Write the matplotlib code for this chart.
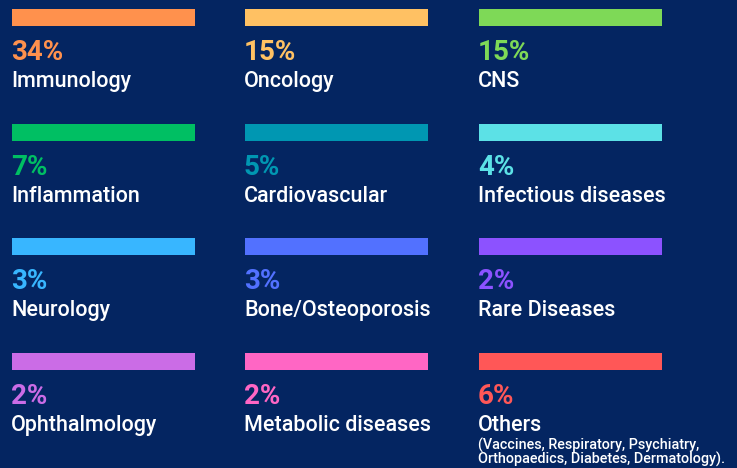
import matplotlib
matplotlib.use("Agg")
import matplotlib.pyplot as plt

# therapeutic areas, share of pipeline (%)
areas = ["Immunology", "Oncology", "CNS",
         "Inflammation", "Cardiovascular", "Infectious diseases",
         "Neurology", "Bone/Osteoporosis", "Rare Diseases",
         "Ophthalmology", "Metabolic diseases", "Others"]
shares = [34, 15, 15, 7, 5, 4, 3, 3, 2, 2, 2, 6]
colors = ["#FF914D", "#FFC163", "#7ED957",
          "#00BF63", "#0097B2", "#5CE1E6",
          "#38B6FF", "#5271FF", "#8C52FF",
          "#CB6CE6", "#FF66C4", "#FF5757"]
others_note = ["(Vaccines, Respiratory, Psychiatry,",
               "Orthopaedics, Diabetes, Dermatology)."]

bg = "#042561"
W, H = 737, 468
fig = plt.figure(figsize=(W / 100, H / 100), dpi=100, facecolor=bg)
ax = fig.add_axes([0, 0, 1, 1])
ax.set_facecolor(bg)
ax.set_xlim(0, W)
ax.set_ylim(H, 0)
ax.axis("off")

col_x = [12, 245, 479]
row_y = [9, 124, 238, 353]
bar_len, bar_h = 183, 17

for i, (name, val, c) in enumerate(zip(areas, shares, colors)):
    x = col_x[i % 3]
    y = row_y[i // 3]
    ax.barh(y, bar_len, height=bar_h, left=x, align="edge", color=c)
    ax.text(x - 1, y + 51, f"{val}%", color=c, fontsize=20, fontweight="bold",
            family="Roboto", va="baseline", ha="left")
    ax.text(x - 1, y + 78, name, color="white", fontsize=15.5,
            family="Roboto", fontweight="medium", va="baseline", ha="left")
    if name == "Others":
        for k, line in enumerate(others_note):
            ax.text(x - 1, y + 97 + 14 * k, line, color="white", fontsize=10.4,
                    family="Roboto", fontweight="medium", va="baseline", ha="left")

fig.savefig("out.png", dpi=100, facecolor=bg)
